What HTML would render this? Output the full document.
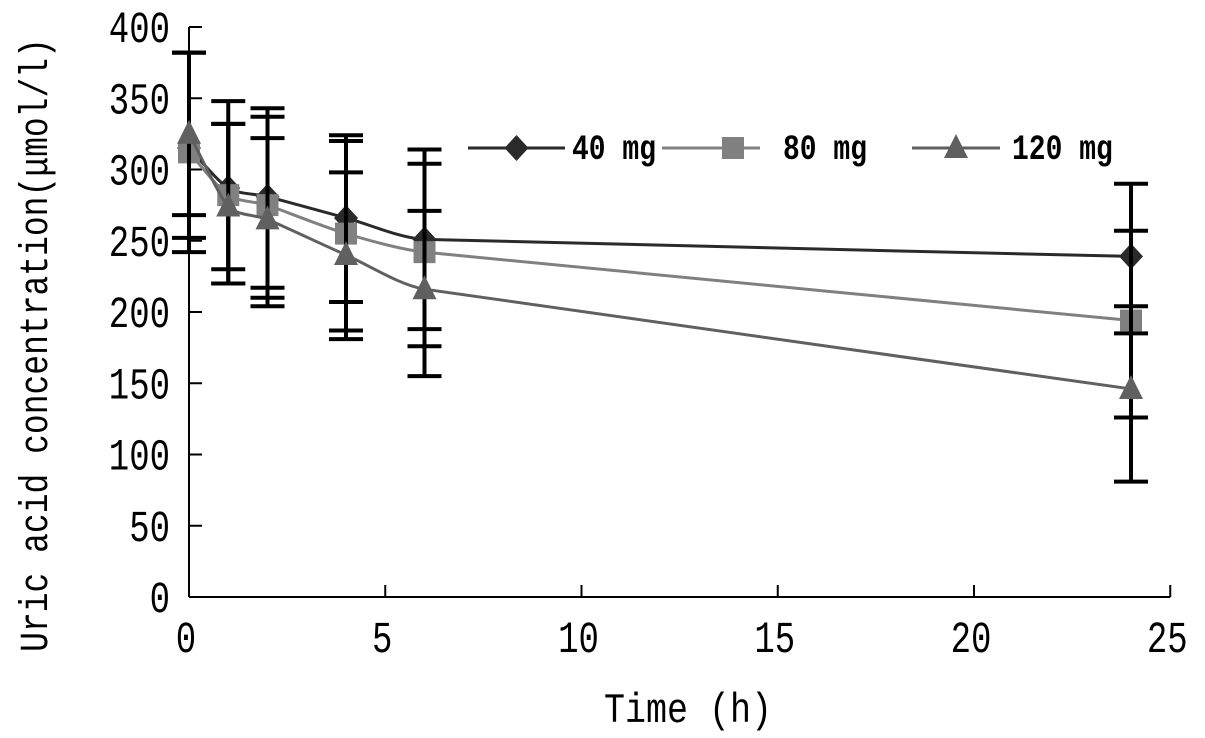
<!DOCTYPE html>
<html><head><meta charset="utf-8"><style>
html,body{margin:0;padding:0;background:#fff;}
svg{display:block;}
text{font-family:"Liberation Mono","Noto Sans CJK SC",monospace;fill:#000;}
</style></head><body>
<svg id="chart" width="1205" height="738" viewBox="0 0 1205 738" xmlns="http://www.w3.org/2000/svg">
<g id="axes"></g>
<g id="series"></g>
<g id="legend"></g>
<text transform="translate(47,345) rotate(-90) scale(1,1.2)" text-anchor="middle" font-size="33">Uric acid concentration(μmol/l)</text>
<text transform="translate(688,722) scale(1,1.2)" text-anchor="middle" font-size="35">Time (h)</text>
</svg>
<script>
const times = [0, 1, 2, 4, 6, 24];
const seriesNames = ["40 mg", "80 mg", "120 mg"];
const mean40 = [315, 287, 281, 266, 251, 239];
const mean80 = [312, 282, 275, 255, 242, 194];
const mean120 = [325, 274, 265, 240, 216, 146];
const up40 = [382, 348, 343, 324, 314, 290];
const lo40 = [252, 230, 217, 207, 188, 185];
const up80 = [382, 332, 337, 320, 304, 257];
const lo80 = [242, 220, 210, 187, 176, 126];
const up120 = [382, 332, 322, 298, 271, 204];
const lo120 = [268, 220, 204, 181, 155, 81];
const xTicks = [0, 5, 10, 15, 20, 25];
const yTicks = [0, 50, 100, 150, 200, 250, 300, 350, 400];

const NS = "http://www.w3.org/2000/svg";
const X0 = 189, XS = 39.25, Y0 = 597, YS = 570/400;
const sx = v => X0 + v * XS;
const sy = v => Y0 - v * YS;
function mk(tag, attrs, parent) {
  const e = document.createElementNS(NS, tag);
  for (const k in attrs) e.setAttribute(k, attrs[k]);
  parent.appendChild(e);
  return e;
}
const axes = document.getElementById("axes");
let el = mk("line", {x1: X0, y1: sy(400), x2: X0, y2: Y0, stroke: "#000", "stroke-width": 2}, axes);


el = mk("line", {x1: X0, y1: Y0, x2: sx(25), y2: Y0, stroke: "#000", "stroke-width": 2}, axes);


yTicks.forEach(v => {
  const t = mk("line", {x1: X0, y1: sy(v), x2: X0 + 13, y2: sy(v), stroke: "#000", "stroke-width": 2}, axes);
  
  
  const l = mk("text", {transform: `translate(170,${sy(v) + 15}) scale(1,1.3)`, "text-anchor": "end", "font-size": 34}, axes);
  l.textContent = v;
  
  
});
xTicks.forEach(v => {
  const t = mk("line", {x1: sx(v), y1: Y0, x2: sx(v), y2: Y0 - 12, stroke: "#000", "stroke-width": 2}, axes);
  
  
  const l = mk("text", {transform: `translate(${sx(v) - 3},652) scale(1,1.3)`, "text-anchor": "middle", "font-size": 34}, axes);
  l.textContent = v;
  
  
});

function curve(pts) {
  const n = pts.length;
  const len = (a, b) => Math.hypot(b[0] - a[0], b[1] - a[1]);
  const dirs = pts.map((p, i) => {
    const a = pts[Math.max(0, i - 1)], b = pts[Math.min(n - 1, i + 1)];
    const L = len(a, b) || 1;
    return [(b[0] - a[0]) / L, (b[1] - a[1]) / L];
  });
  const hl = pts.map((p, i) => {
    const l1 = i > 0 ? len(pts[i - 1], p) : Infinity;
    const l2 = i < n - 1 ? len(p, pts[i + 1]) : Infinity;
    return 0.3 * Math.min(l1, l2);
  });
  let s = "M" + pts[0][0] + "," + pts[0][1];
  for (let i = 0; i < n - 1; i++) {
    const p1 = pts[i], p2 = pts[i + 1];
    const c1 = [p1[0] + dirs[i][0] * hl[i], p1[1] + dirs[i][1] * hl[i]];
    const c2 = [p2[0] - dirs[i + 1][0] * hl[i + 1], p2[1] - dirs[i + 1][1] * hl[i + 1]];
    s += ` C${c1} ${c2} ${p2}`;
  }
  return s;
}
function marker(kind, x, y, color, parent) {
  let m;
  if (kind === 0) m = mk("polygon", {points: `${x},${y-13} ${x+12},${y} ${x},${y+13} ${x-12},${y}`, fill: color}, parent);
  else if (kind === 1) m = mk("rect", {x: x - 11, y: y - 11, width: 22, height: 22, fill: color}, parent);
  else m = mk("polygon", {points: `${x},${y-14} ${x+12},${y+10} ${x-12},${y+10}`, fill: color}, parent);
  return m;
}
const seriesDefs = [
  {m: mean40, u: up40, l: lo40, c: "#2a2a2a", key: "40mg"},
  {m: mean80, u: up80, l: lo80, c: "#808080", key: "80mg"},
  {m: mean120, u: up120, l: lo120, c: "#606060", key: "120mg"}
];
const sg = document.getElementById("series");
seriesDefs.forEach((s, k) => {
  const g = mk("g", {}, sg);
  
  
  times.forEach((t, i) => {
    const x = sx(t);
    const e = mk("path", {d: `M${x},${sy(s.u[i])}V${sy(s.l[i])}M${x-17},${sy(s.u[i])}H${x+17}M${x-17},${sy(s.l[i])}H${x+17}`, stroke: "#000", "stroke-width": 4, fill: "none"}, g);
    
    
  });
});
seriesDefs.forEach((s, k) => {
  const g = sg.children[k];
  const p = mk("path", {d: curve(times.map((t, i) => [sx(t), sy(s.m[i])])), stroke: s.c, "stroke-width": 3, fill: "none"}, g);
  
  
  times.forEach((t, i) => {
    const m = marker(k, sx(t), sy(s.m[i]), s.c, g);
    
    
  });
});
const lg = document.getElementById("legend");
const legX = [468, 662, 912];
const legW = [97, 98, 88];
const legText = [572, 783, 1012];
seriesDefs.forEach((s, k) => {
  const g = mk("g", {}, lg);
  
  
  const x = legX[k];
  mk("line", {x1: x, y1: 148, x2: x + legW[k], y2: 148, stroke: s.c, "stroke-width": 3}, g);
  marker(k, x + legW[k] / 2 + (k === 1 ? 22 : 0), 148, s.c, g);
  const t = mk("text", {transform: `translate(${legText[k]},159) scale(1,1.25)`, "font-size": 28, "font-weight": "bold"}, g);
  t.textContent = seriesNames[k];
});
</script>
</body></html>
